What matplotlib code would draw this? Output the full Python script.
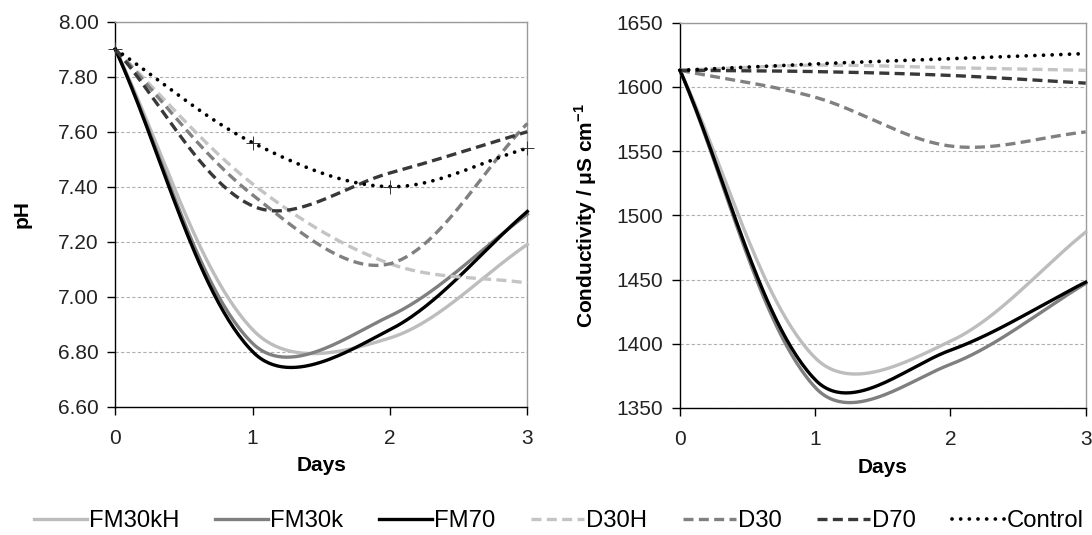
import numpy as np
import matplotlib
matplotlib.use('Agg')
import matplotlib.pyplot as plt
from matplotlib import font_manager

names = set(f.name for f in font_manager.fontManager.ttflist)
family = 'Liberation Sans' if 'Liberation Sans' in names else 'DejaVu Sans'
plt.rcParams['font.family'] = [family, 'DejaVu Sans']
plt.rcParams['mathtext.fontset'] = 'custom'
plt.rcParams['mathtext.rm'] = family
plt.rcParams['mathtext.bf'] = family + ':bold'

days = [0, 1, 2, 3]
series = ['FM30kH', 'FM30k', 'FM70', 'D30H', 'D30', 'D70', 'Control']

ph = {
    'FM30kH': [7.90, 6.88, 6.85, 7.19],
    'FM30k': [7.90, 6.83, 6.93, 7.30],
    'FM70': [7.90, 6.80, 6.88, 7.31],
    'D30H': [7.90, 7.41, 7.12, 7.05],
    'D30': [7.90, 7.37, 7.12, 7.63],
    'D70': [7.90, 7.33, 7.45, 7.60],
    'Control': [7.90, 7.56, 7.40, 7.54],
}

cond = {
    'FM30kH': [1613, 1389, 1402, 1487],
    'FM30k': [1613, 1366, 1384, 1447],
    'FM70': [1613, 1372, 1395, 1448],
    'D30H': [1613, 1617, 1615, 1613],
    'D30': [1613, 1592, 1554, 1565],
    'D70': [1613, 1612, 1609, 1603],
    'Control': [1613, 1618, 1622, 1626],
}

DASH = (0, (3.0, 1.6))
styles = {
    'FM30kH': dict(color='#bdbdbd', ls='-'),
    'FM30k': dict(color='#7f7f7f', ls='-'),
    'FM70': dict(color='#000000', ls='-'),
    'D30H': dict(color='#c4c4c4', ls=DASH),
    'D30': dict(color='#808080', ls=DASH),
    'D70': dict(color='#383838', ls=DASH),
    'Control': dict(color='#000000', ls=(0, (0.01, 2.3))),
}


def smooth(ax, x, y, n=60):
    # smoothed line: cubic bezier per segment, tangent from the two
    # neighbours, control length half fixed and half weighted by the
    # on-screen segment lengths
    p = ax.transData.transform(np.column_stack([x, y]).astype(float))
    m = len(p)
    d = np.hypot(*np.diff(p, axis=0).T)

    def k(a, b):
        return (0.25 + 0.5 * a / (a + b)) / 3.0

    out = []
    t = np.linspace(0, 1, n)[:, None]
    for i in range(m - 1):
        p0, p1 = p[i], p[i + 1]
        if i == 0:
            c1 = p0 + (p1 - p0) / 3.0
        else:
            c1 = p0 + (p1 - p[i - 1]) * k(d[i], d[i - 1])
        if i == m - 2:
            c2 = p1 - (p1 - p0) / 3.0
        else:
            c2 = p1 - (p[i + 2] - p0) * k(d[i], d[i + 1])
        seg = ((1 - t) ** 3) * p0 + 3 * ((1 - t) ** 2) * t * c1 \
            + 3 * (1 - t) * t ** 2 * c2 + t ** 3 * p1
        out.append(seg if i == 0 else seg[1:])
    out = ax.transData.inverted().transform(np.vstack(out))
    return out[:, 0], out[:, 1]


fig = plt.figure(figsize=(10.92, 5.35), dpi=100)
ax1 = fig.add_axes([0.1056, 0.2398, 0.3773, 0.7196])
ax2 = fig.add_axes([0.6227, 0.2374, 0.3715, 0.7200])

ax1.set_xlim(0, 3)
ax1.set_ylim(6.6, 8.0)
ax2.set_xlim(0, 3)
ax2.set_ylim(1350, 1650)

lines = []
for ax, data in ((ax1, ph), (ax2, cond)):
    for s in series:
        xs, ys = smooth(ax, days, data[s])
        st = styles[s]
        ln, = ax.plot(xs, ys, color=st['color'], linestyle=st['ls'], lw=2.4,
                      dash_capstyle='butt', clip_on=False, zorder=3)
        if s == 'Control':
            ln.set_dash_capstyle('round')
            ln.set_linewidth(2.7)
        if ax is ax1:
            lines.append(ln)
    if ax is ax1:
        ax.plot(days, data['Control'], ls='none', marker='+', ms=10, mew=0.7,
                color='#333333', zorder=4, clip_on=False)

ax1.set_yticks(np.arange(6.6, 8.01, 0.2))
ax1.set_yticklabels(['%.2f' % v for v in np.arange(6.6, 8.01, 0.2)])
ax1.set_ylabel('pH', fontsize=15, fontweight='bold', labelpad=19)

ax2.set_yticks(range(1350, 1651, 50))
ax2.set_ylabel(r'Conductivity / μS cm$^{\mathbf{-1}}$', fontsize=15,
               fontweight='bold', labelpad=13)

for ax in (ax1, ax2):
    ax.set_xticks(days)
    ax.set_xlabel('Days', fontsize=15, fontweight='bold', labelpad=6)
    ax.yaxis.grid(True, color='#b0b0b0', ls=(0, (3, 2)), lw=0.8)
    ax.set_axisbelow(True)
    ax.tick_params(direction='out', length=6, width=1, colors='#000000',
                   labelsize=15, labelcolor='#222222')
    ax.tick_params(axis='x', pad=10)
    ax.tick_params(axis='y', pad=6)
    for side in ('left', 'bottom'):
        ax.spines[side].set_color('#000000')
        ax.spines[side].set_linewidth(1.0)
    for side in ('top', 'right'):
        ax.spines[side].set_color('#9a9a9a')
        ax.spines[side].set_linewidth(1.0)

fig.legend(lines, series, loc='lower center', bbox_to_anchor=(0.512, -0.035),
           ncol=7, frameon=False, fontsize=17.2, handlelength=2.2,
           handletextpad=0.1, columnspacing=1.5)

fig.savefig('out.png', dpi=100)
